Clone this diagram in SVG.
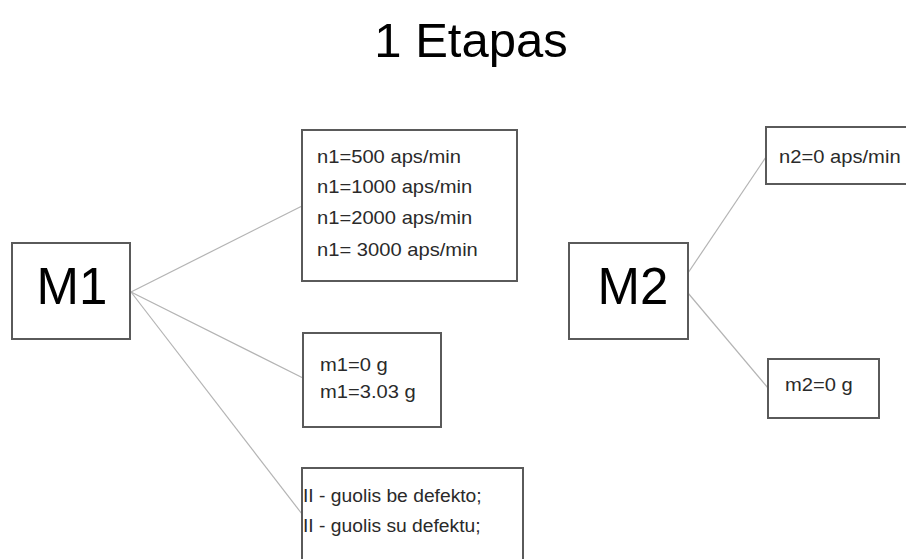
<svg xmlns="http://www.w3.org/2000/svg" width="906" height="559" viewBox="0 0 906 559">
<style>
.box{fill:#fff;stroke:#5a5a5a;stroke-width:2}
.t{font-family:"Liberation Sans",Arial,sans-serif;fill:#2a2a2a;font-size:18px}
.big{font-family:"Liberation Sans",Arial,sans-serif;fill:#000;font-size:51px;text-anchor:middle}
.c{stroke:#b4b4b4;stroke-width:1.2;fill:none}
</style>
<rect width="906" height="559" fill="#fff"/>
<text x="471" y="57" class="big" style="font-size:49px">1 Etapas</text>
<g id="connectors">
<line class="c" x1="131" y1="292" x2="302" y2="206"/>
<line class="c" x1="131" y1="292" x2="303" y2="378"/>
<line class="c" x1="131" y1="292" x2="302" y2="514"/>
<line class="c" x1="688" y1="273" x2="766" y2="157"/>
<line class="c" x1="688" y1="293" x2="768" y2="388"/>
</g>
<g id="M1">
<rect class="box" x="12" y="243" width="118" height="96"/>
<text x="72" y="304" class="big">M1</text>
</g>
<g id="n1">
<rect class="box" x="302" y="130" width="215" height="151"/>
<text class="t" transform="translate(317,163) scale(1.12,1)">n1=500 aps/min</text>
<text class="t" transform="translate(317,193) scale(1.12,1)">n1=1000 aps/min</text>
<text class="t" transform="translate(317,224) scale(1.12,1)">n1=2000 aps/min</text>
<text class="t" transform="translate(317,256) scale(1.12,1)">n1= 3000 aps/min</text>
</g>
<g id="m1">
<rect class="box" x="303" y="333" width="138" height="94"/>
<text class="t" transform="translate(320,371) scale(1.12,1)">m1=0 g</text>
<text class="t" transform="translate(320,398) scale(1.12,1)">m1=3.03 g</text>
</g>
<g id="defect">
<rect class="box" x="302" y="468" width="221" height="100"/>
<text class="t" transform="translate(303,502) scale(1.07,1)">II - guolis be defekto;</text>
<text class="t" transform="translate(303,532) scale(1.07,1)">II - guolis su defektu;</text>
</g>
<g id="M2">
<rect class="box" x="569" y="243" width="119" height="96"/>
<text x="633" y="304" class="big">M2</text>
</g>
<g id="n2">
<rect class="box" x="766" y="127" width="145" height="57"/>
<text class="t" transform="translate(779,163) scale(1.12,1)">n2=0 aps/min</text>
</g>
<g id="m2">
<rect class="box" x="768" y="359" width="111" height="59"/>
<text class="t" transform="translate(785,391) scale(1.12,1)">m2=0 g</text>
</g>
</svg>
